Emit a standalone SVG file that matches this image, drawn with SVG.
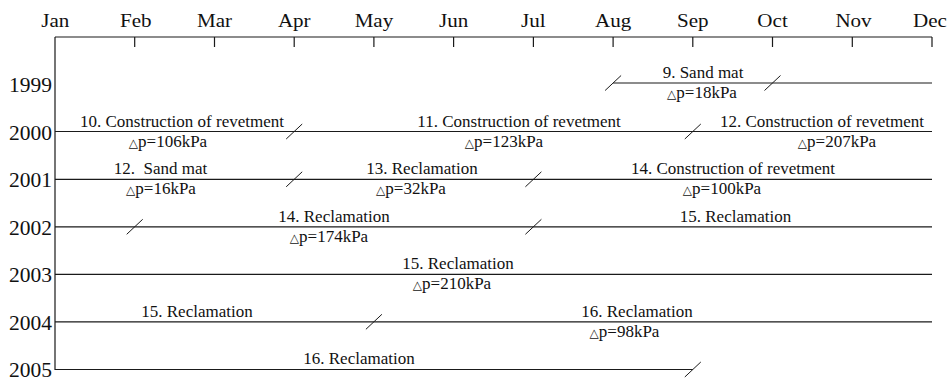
<svg xmlns="http://www.w3.org/2000/svg" width="950" height="380" viewBox="0 0 950 380">
<style>
  .ln { stroke: #1a1a1a; stroke-width: 1.2; fill: none; }
  .sl { stroke: #1a1a1a; stroke-width: 1; fill: none; }
  .mon { font-family: "Liberation Serif", "Times New Roman", serif; font-size: 18px; fill: #111; text-anchor: middle; }
  .yr { font-family: "Liberation Serif", "Times New Roman", serif; font-size: 21.5px; fill: #111; text-anchor: end; }
  .lb { font-family: "Liberation Serif", "Times New Roman", serif; font-size: 17px; fill: #111; text-anchor: middle; white-space: pre; }
  .tri { font-family: "DejaVu Sans", sans-serif; font-size: 12px; }
</style>
<rect width="950" height="380" fill="#ffffff"/>

<g id="axis">
  <path class="ln" d="M55 37 H932 M55 37 V370"/>
  <path class="ln" d="M134.7 37 V47 M214.5 37 V47 M294.2 37 V47 M373.9 37 V47 M453.6 37 V47 M533.4 37 V47 M613.1 37 V47 M692.8 37 V47 M772.5 37 V47 M852.3 37 V47 M932 37 V47"/>
  <g transform="scale(1.17 1)">
    <text class="mon" x="47.3" y="27">Jan</text>
    <text class="mon" x="116.1" y="27">Feb</text>
    <text class="mon" x="183.3" y="27">Mar</text>
    <text class="mon" x="251.5" y="27">Apr</text>
    <text class="mon" x="319.6" y="27">May</text>
    <text class="mon" x="387.7" y="27">Jun</text>
    <text class="mon" x="455.9" y="27">Jul</text>
    <text class="mon" x="524.0" y="27">Aug</text>
    <text class="mon" x="592.1" y="27">Sep</text>
    <text class="mon" x="660.3" y="27">Oct</text>
    <text class="mon" x="729.5" y="27">Nov</text>
    <text class="mon" x="794.9" y="27">Dec</text>
  </g>
  <text class="yr" x="52" y="92">1999</text>
  <text class="yr" x="52" y="139.5">2000</text>
  <text class="yr" x="52" y="187">2001</text>
  <text class="yr" x="52" y="234.5">2002</text>
  <text class="yr" x="52" y="282">2003</text>
  <text class="yr" x="52" y="329.5">2004</text>
  <text class="yr" x="52" y="376.5">2005</text>
</g>

<g id="row-1999">
  <path class="ln" d="M613.1 83 H932"/>
  <path class="sl" d="M605.1 90.5 L621.1 75.5 M764.5 90.5 L780.5 75.5"/>
  <text class="lb" x="703" y="78">9. Sand mat</text>
  <text class="lb" x="702" y="98"><tspan class="tri">△</tspan>p=18kPa</text>
</g>

<g id="row-2000">
  <path class="ln" d="M55 131.5 H932"/>
  <path class="sl" d="M286.2 139 L302.2 124 M684.8 139 L700.8 124"/>
  <text class="lb" x="182" y="126.5">10. Construction of revetment</text>
  <text class="lb" x="168" y="146.5"><tspan class="tri">△</tspan>p=106kPa</text>
  <text class="lb" x="519" y="126.5">11. Construction of revetment</text>
  <text class="lb" x="504" y="146.5"><tspan class="tri">△</tspan>p=123kPa</text>
  <text class="lb" x="822" y="126.5">12. Construction of revetment</text>
  <text class="lb" x="837" y="146.5"><tspan class="tri">△</tspan>p=207kPa</text>
</g>

<g id="row-2001">
  <path class="ln" d="M55 179.3 H932"/>
  <path class="sl" d="M286.2 186.8 L302.2 171.8 M525.4 186.8 L541.4 171.8"/>
  <text class="lb" x="160.5" y="174.3">12.  Sand mat</text>
  <text class="lb" x="161" y="194.3"><tspan class="tri">△</tspan>p=16kPa</text>
  <text class="lb" x="422" y="174.3">13. Reclamation</text>
  <text class="lb" x="411" y="194.3"><tspan class="tri">△</tspan>p=32kPa</text>
  <text class="lb" x="733" y="174.3">14. Construction of revetment</text>
  <text class="lb" x="722" y="194.3"><tspan class="tri">△</tspan>p=100kPa</text>
</g>

<g id="row-2002">
  <path class="ln" d="M55 226.8 H932"/>
  <path class="sl" d="M126.7 234.3 L142.7 219.3 M525.4 234.3 L541.4 219.3"/>
  <text class="lb" x="334" y="221.8">14. Reclamation</text>
  <text class="lb" x="329" y="241.8"><tspan class="tri">△</tspan>p=174kPa</text>
  <text class="lb" x="735.5" y="221.8">15. Reclamation</text>
</g>

<g id="row-2003">
  <path class="ln" d="M55 274.3 H932"/>
  <text class="lb" x="458" y="269.3">15. Reclamation</text>
  <text class="lb" x="452" y="289.3"><tspan class="tri">△</tspan>p=210kPa</text>
</g>

<g id="row-2004">
  <path class="ln" d="M55 321.8 H932"/>
  <path class="sl" d="M365.9 329.3 L381.9 314.3"/>
  <text class="lb" x="197" y="316.8">15. Reclamation</text>
  <text class="lb" x="637" y="316.8">16. Reclamation</text>
  <text class="lb" x="624.5" y="336.8"><tspan class="tri">△</tspan>p=98kPa</text>
</g>

<g id="row-2005">
  <path class="ln" d="M55 369.5 H692.8"/>
  <path class="sl" d="M684.8 377 L700.8 362"/>
  <text class="lb" x="359" y="364">16. Reclamation</text>
</g>
</svg>
